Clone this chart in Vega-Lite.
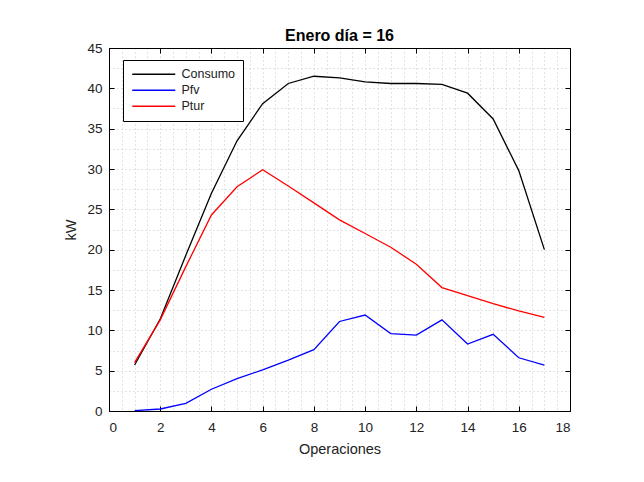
{
  "$schema": "https://vega.github.io/schema/vega-lite/v6.json",
  "autosize": {"type": "none"},
  "padding": {"left": 109, "top": 48, "right": 74, "bottom": 71},
  "width": 461,
  "height": 363,
  "background": "white",
  "config": {
    "font": "Liberation Sans",
    "view": {"stroke": "black", "strokeWidth": 1},
    "axis": {"labelFont": "Liberation Sans", "titleFont": "Liberation Sans", "labelFontSize": 13.5, "titleFontSize": 14.5, "labelColor": "#222", "titleColor": "#222", "titleFontWeight": "normal", "domainColor": "black", "tickColor": "black"}
  },
  "title": {"text": "Enero día = 16", "fontSize": 16, "fontWeight": "bold", "font": "Liberation Sans", "anchor": "middle", "offset": -3, "color": "black"},
  "data": {"values": [
    {"op": 1, "serie": "Consumo", "kw": 5.7},
    {"op": 2, "serie": "Consumo", "kw": 11.4},
    {"op": 3, "serie": "Consumo", "kw": 19.3},
    {"op": 4, "serie": "Consumo", "kw": 27.0},
    {"op": 5, "serie": "Consumo", "kw": 33.5},
    {"op": 6, "serie": "Consumo", "kw": 38.1},
    {"op": 7, "serie": "Consumo", "kw": 40.6},
    {"op": 8, "serie": "Consumo", "kw": 41.5},
    {"op": 9, "serie": "Consumo", "kw": 41.3},
    {"op": 10, "serie": "Consumo", "kw": 40.8},
    {"op": 11, "serie": "Consumo", "kw": 40.6},
    {"op": 12, "serie": "Consumo", "kw": 40.6},
    {"op": 13, "serie": "Consumo", "kw": 40.5},
    {"op": 14, "serie": "Consumo", "kw": 39.4},
    {"op": 15, "serie": "Consumo", "kw": 36.2},
    {"op": 16, "serie": "Consumo", "kw": 29.8},
    {"op": 17, "serie": "Consumo", "kw": 20.0},
    {"op": 1, "serie": "Pfv", "kw": 0.05},
    {"op": 2, "serie": "Pfv", "kw": 0.25},
    {"op": 3, "serie": "Pfv", "kw": 0.95},
    {"op": 4, "serie": "Pfv", "kw": 2.7},
    {"op": 5, "serie": "Pfv", "kw": 4.0},
    {"op": 6, "serie": "Pfv", "kw": 5.1},
    {"op": 7, "serie": "Pfv", "kw": 6.3},
    {"op": 8, "serie": "Pfv", "kw": 7.6},
    {"op": 9, "serie": "Pfv", "kw": 11.1},
    {"op": 10, "serie": "Pfv", "kw": 11.9},
    {"op": 11, "serie": "Pfv", "kw": 9.6},
    {"op": 12, "serie": "Pfv", "kw": 9.4},
    {"op": 13, "serie": "Pfv", "kw": 11.3},
    {"op": 14, "serie": "Pfv", "kw": 8.3},
    {"op": 15, "serie": "Pfv", "kw": 9.5},
    {"op": 16, "serie": "Pfv", "kw": 6.6},
    {"op": 17, "serie": "Pfv", "kw": 5.7},
    {"op": 1, "serie": "Ptur", "kw": 6.0},
    {"op": 2, "serie": "Ptur", "kw": 11.3},
    {"op": 3, "serie": "Ptur", "kw": 17.9},
    {"op": 4, "serie": "Ptur", "kw": 24.3},
    {"op": 5, "serie": "Ptur", "kw": 27.8},
    {"op": 6, "serie": "Ptur", "kw": 29.9},
    {"op": 7, "serie": "Ptur", "kw": 27.9},
    {"op": 8, "serie": "Ptur", "kw": 25.8},
    {"op": 9, "serie": "Ptur", "kw": 23.7},
    {"op": 10, "serie": "Ptur", "kw": 22.0},
    {"op": 11, "serie": "Ptur", "kw": 20.3},
    {"op": 12, "serie": "Ptur", "kw": 18.2},
    {"op": 13, "serie": "Ptur", "kw": 15.3},
    {"op": 14, "serie": "Ptur", "kw": 14.3},
    {"op": 15, "serie": "Ptur", "kw": 13.3},
    {"op": 16, "serie": "Ptur", "kw": 12.4},
    {"op": 17, "serie": "Ptur", "kw": 11.6}
  ]},
  "resolve": {"axis": {"x": "independent", "y": "independent"}},
  "layer": [
    {
      "mark": {"type": "line", "strokeWidth": 1.3},
      "encoding": {
        "x": {"field": "op", "type": "quantitative",
          "scale": {"domain": [0, 18], "nice": false, "zero": false},
          "axis": {"orient": "bottom", "title": "Operaciones", "titlePadding": 9,
            "values": [0,0.5,1,1.5,2,2.5,3,3.5,4,4.5,5,5.5,6,6.5,7,7.5,8,8.5,9,9.5,10,10.5,11,11.5,12,12.5,13,13.5,14,14.5,15,15.5,16,16.5,17,17.5,18],
            "labelExpr": "datum.value % 2 === 0 ? format(datum.value, 'd') : ''",
            "labelPadding": 14,
            "grid": true, "gridColor": "#c8c8c8", "gridDash": [1, 3], "gridWidth": 1,
            "tickSize": -5,
            "tickOpacity": {"condition": {"test": "datum.value % 2 === 0", "value": 1}, "value": 0}}},
        "y": {"field": "kw", "type": "quantitative",
          "scale": {"domain": [0, 45], "nice": false},
          "axis": {"orient": "left", "title": "kW", "titlePadding": 8,
            "values": [0,2.5,5,7.5,10,12.5,15,17.5,20,22.5,25,27.5,30,32.5,35,37.5,40,42.5,45],
            "labelExpr": "datum.value % 5 === 0 ? format(datum.value, 'd') : ''",
            "labelPadding": 12,
            "grid": true, "gridColor": "#c8c8c8", "gridDash": [1, 3], "gridWidth": 1,
            "tickSize": -5,
            "tickOpacity": {"condition": {"test": "datum.value % 5 === 0", "value": 1}, "value": 0}}},
        "color": {"field": "serie", "type": "nominal",
          "scale": {"domain": ["Consumo", "Pfv", "Ptur"], "range": ["#000000", "#0000ff", "#ff0000"]},
          "legend": {"title": null, "orient": "none", "legendX": 14, "legendY": 12,
            "strokeColor": "black", "fillColor": "white", "padding": 8,
            "symbolType": "M-1,0H7.6", "symbolSize": 100, "symbolStrokeWidth": 1.3,
            "labelFont": "Liberation Sans", "labelFontSize": 12.5, "labelColor": "#222",
            "rowPadding": 3, "labelOffset": 38}}
      }
    },
    {
      "mark": {"type": "line", "strokeOpacity": 0},
      "encoding": {
        "detail": {"field": "serie"},
        "x": {"field": "op", "type": "quantitative",
          "axis": {"orient": "top", "title": null, "labels": false, "grid": false, "domain": true,
            "values": [0,2,4,6,8,10,12,14,16,18], "tickSize": -5}},
        "y": {"field": "kw", "type": "quantitative",
          "axis": {"orient": "right", "title": null, "labels": false, "grid": false, "domain": true,
            "values": [0,5,10,15,20,25,30,35,40,45], "tickSize": -5}}
      }
    }
  ]
}
